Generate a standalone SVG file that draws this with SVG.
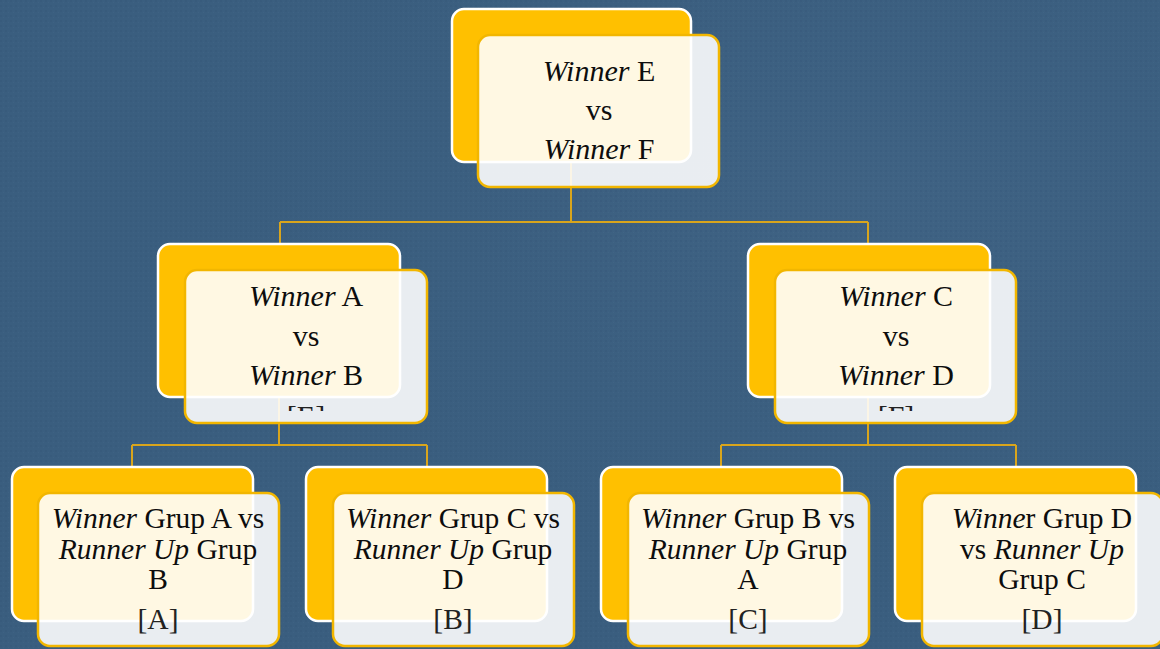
<svg xmlns="http://www.w3.org/2000/svg" width="1160" height="649" viewBox="0 0 1160 649">
<style>
.back{fill:#ffc000;stroke:#ffffff;stroke-width:2.5}
.front{fill:#ffffff;fill-opacity:0.89;stroke:#f2b600;stroke-width:2.5}
.conn{fill:none;stroke:#d9a51c;stroke-width:2}
.t{font-family:'Liberation Serif','Times New Roman',serif;fill:#0d0d0d;text-anchor:middle}
.big{font-size:30px}
.sm{font-size:29.5px}
.it{font-style:italic}
.br{fill:#222222}
</style>
<defs>
<pattern id="tex" width="5" height="5" patternUnits="userSpaceOnUse">
<rect x="0" y="0" width="2" height="2" fill="#2a4a68" fill-opacity="0.14"/>
<rect x="3" y="2" width="1" height="1" fill="#7090aa" fill-opacity="0.10"/>
</pattern>
<radialGradient id="glow" cx="0.75" cy="0.3" r="0.7">
<stop offset="0" stop-color="#46698a" stop-opacity="0.45"/>
<stop offset="1" stop-color="#3a5e7e" stop-opacity="0"/>
</radialGradient>
<clipPath id="clipE"><rect x="150" y="395" width="300" height="16"/></clipPath>
<clipPath id="clipF"><rect x="740" y="395" width="300" height="16"/></clipPath>
</defs>
<rect width="1160" height="649" fill="#3a5e7f"/>
<rect width="1160" height="649" fill="url(#glow)"/>
<rect width="1160" height="649" fill="url(#tex)"/>

<g id="connectors">
<path class="conn" d="M571 162 V222 M280 222 H868 M280 222 V246 M868 222 V246"/>
<path class="conn" d="M279 397 V445 M132 445 H427 M132 445 V469 M427 445 V469"/>
<path class="conn" d="M868 397 V445 M721 445 H1016 M721 445 V469 M1016 445 V469"/>
</g>

<g id="node-final">
<rect class="back" x="452" y="9" width="239" height="153" rx="12"/>
<rect class="front" x="478" y="35" width="241" height="152" rx="12"/>
<text class="t big" x="599" y="81"><tspan class="it">Winner</tspan> E</text>
<text class="t big" x="599" y="120">vs</text>
<text class="t big" x="599" y="159"><tspan class="it">Winner</tspan> F</text>
</g>

<g id="node-E">
<rect class="back" x="158" y="244" width="242" height="153" rx="12"/>
<rect class="front" x="185" y="270" width="242" height="153" rx="12"/>
<text class="t big" x="306" y="306"><tspan class="it">Winner</tspan> A</text>
<text class="t big" x="306" y="346">vs</text>
<text class="t big" x="306" y="385"><tspan class="it">Winner</tspan> B</text>
<text class="t big br" x="306" y="426" clip-path="url(#clipE)">[E]</text>
</g>

<g id="node-F">
<rect class="back" x="748" y="244" width="242" height="153" rx="12"/>
<rect class="front" x="775" y="270" width="241" height="153" rx="12"/>
<text class="t big" x="896" y="306"><tspan class="it">Winner</tspan> C</text>
<text class="t big" x="896" y="346">vs</text>
<text class="t big" x="896" y="385"><tspan class="it">Winner</tspan> D</text>
<text class="t big br" x="896" y="426" clip-path="url(#clipF)">[F]</text>
</g>

<g id="node-A">
<rect class="back" x="12" y="467" width="241" height="154" rx="12"/>
<rect class="front" x="38" y="493" width="241" height="153" rx="12"/>
<text class="t sm" x="158" y="528"><tspan class="it">Winner</tspan> Grup A vs</text>
<text class="t sm" x="158" y="559"><tspan class="it">Runner Up</tspan> Grup</text>
<text class="t sm" x="158" y="589">B</text>
<text class="t sm br" x="158" y="629">[A]</text>
</g>

<g id="node-B">
<rect class="back" x="306" y="467" width="241" height="154" rx="12"/>
<rect class="front" x="333" y="493" width="241" height="153" rx="12"/>
<text class="t sm" x="453" y="528"><tspan class="it">Winner</tspan> Grup C vs</text>
<text class="t sm" x="453" y="559"><tspan class="it">Runner Up</tspan> Grup</text>
<text class="t sm" x="453" y="589">D</text>
<text class="t sm br" x="453" y="629">[B]</text>
</g>

<g id="node-C">
<rect class="back" x="601" y="467" width="241" height="154" rx="12"/>
<rect class="front" x="628" y="493" width="241" height="153" rx="12"/>
<text class="t sm" x="748" y="528"><tspan class="it">Winner</tspan> Grup B vs</text>
<text class="t sm" x="748" y="559"><tspan class="it">Runner Up</tspan> Grup</text>
<text class="t sm" x="748" y="589">A</text>
<text class="t sm br" x="748" y="629">[C]</text>
</g>

<g id="node-D">
<rect class="back" x="895" y="467" width="241" height="154" rx="12"/>
<rect class="front" x="922" y="493" width="241" height="153" rx="12"/>
<text class="t sm" x="1042" y="528"><tspan class="it">Winne</tspan>r Grup D</text>
<text class="t sm" x="1042" y="559">vs <tspan class="it">Runner Up</tspan></text>
<text class="t sm" x="1042" y="589">Grup C</text>
<text class="t sm br" x="1042" y="629">[D]</text>
</g>
</svg>
